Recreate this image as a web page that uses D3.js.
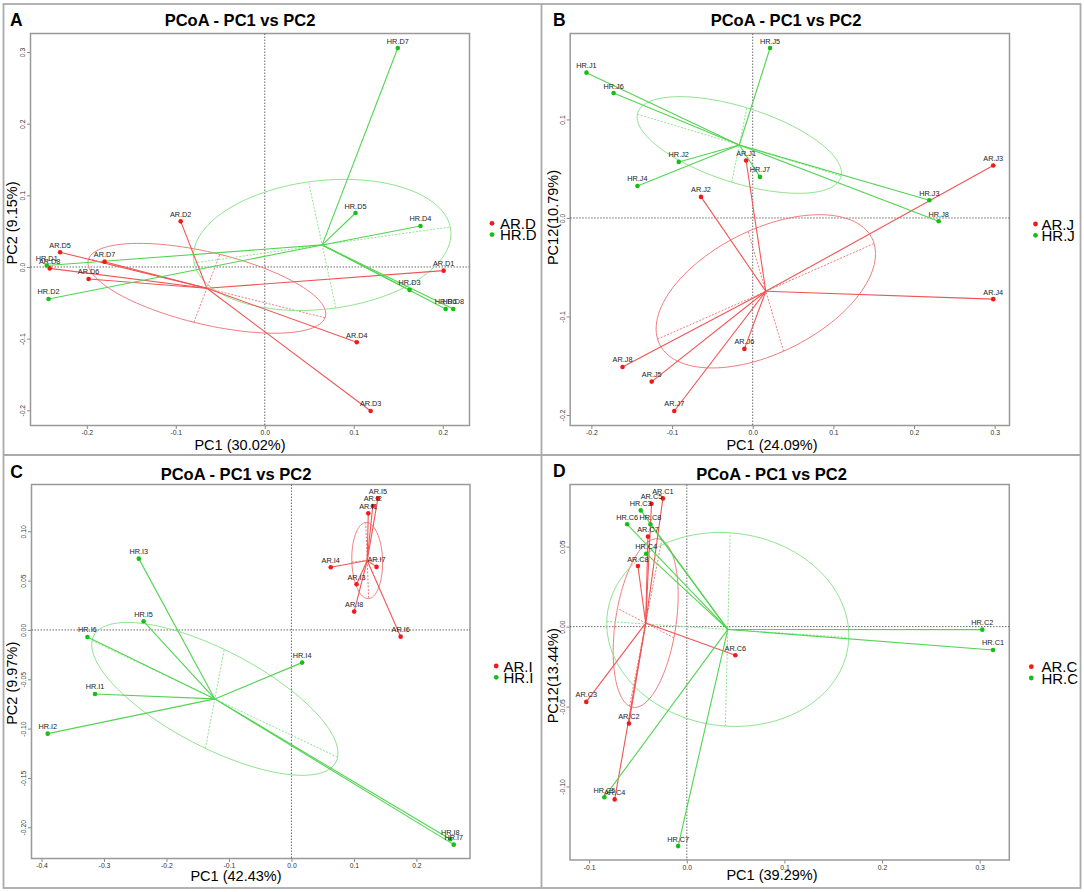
<!DOCTYPE html>
<html>
<head>
<meta charset="utf-8">
<script src="https://cdn.jsdelivr.net/npm/d3@7"></script>
<style>
  body { margin: 0; background: #fff; }
  svg { display: block; font-family: "Liberation Sans", Arial, Helvetica, sans-serif; }
</style>
</head>
<body>
<svg id="fig" width="1084" height="892"></svg>
<script>
// ---- data ----
var namesD = ["AR.D1","AR.D2","AR.D3","AR.D4","AR.D5","AR.D6","AR.D7","AR.D8",
              "HR.D1","HR.D2","HR.D3","HR.D4","HR.D5","HR.D6","HR.D7","HR.D8"];
var pc1D = [0.201,-0.0945,0.119,0.1034,-0.230,-0.198,-0.180,-0.2417,
            -0.245,-0.243,0.1627,0.175,0.102,0.2033,0.1495,0.2118];
var pc2D = [-0.0051,0.0637,-0.201,-0.105,0.0205,-0.0167,0.0074,-0.002,
            0.002,-0.0447,-0.032,0.0572,0.0753,-0.0586,0.3056,-0.0586];

var namesJ = ["AR.J1","AR.J2","AR.J3","AR.J4","AR.J5","AR.J6","AR.J7","AR.J8",
              "HR.J1","HR.J2","HR.J3","HR.J4","HR.J5","HR.J6","HR.J7","HR.J8"];
var pc1J = [-0.0082,-0.0641,0.2982,0.2982,-0.1252,-0.0103,-0.0972,-0.1614,
            -0.2061,-0.0917,0.219,-0.1429,0.0215,-0.1725,0.009,0.2306];
var pc2J = [0.0583,0.0214,0.0532,-0.0824,-0.1661,-0.1329,-0.1959,-0.1512,
            0.1475,0.0569,0.018,0.0325,0.1725,0.1268,0.0417,-0.0034];

var namesI = ["AR.I1","AR.I2","AR.I3","AR.I4","AR.I5","AR.I6","AR.I7","AR.I8",
              "HR.I1","HR.I2","HR.I3","HR.I4","HR.I5","HR.I6","HR.I7","HR.I8"];
var pc1I = [0.123,0.1302,0.1042,0.0629,0.1384,0.1748,0.1362,0.1004,
            -0.3144,-0.390,-0.2443,0.0171,-0.2366,-0.3265,0.2598,0.2543];
var pc2I = [0.1182,0.1257,0.0463,0.0635,0.1334,-0.0068,0.0639,0.0186,
            -0.0649,-0.1051,0.0723,-0.0331,0.0088,-0.0071,-0.2176,-0.2122];

var namesC = ["AR.C1","AR.C2","AR.C3","AR.C4","AR.C5","AR.C6","AR.C7","AR.C8",
              "HR.C1","HR.C2","HR.C3","HR.C4","HR.C5","HR.C6","HR.C7","HR.C8"];
var pc1C = [-0.0245,-0.0593,-0.103,-0.0739,-0.0362,0.0497,-0.0398,-0.0501,
            0.3137,0.3027,-0.0472,-0.0416,-0.0845,-0.0611,-0.0089,-0.0373];
var pc2C = [0.0802,-0.0606,-0.0471,-0.1081,0.0769,-0.0179,0.0563,0.0379,
            -0.0146,-0.0019,0.0727,0.0456,-0.1067,0.064,-0.1373,0.064];

var xTicksD = [-0.2,-0.1,0,0.1,0.2];
var yTicksD = [-0.2,-0.1,0,0.1,0.2,0.3];
var xTicksJ = [-0.2,-0.1,0,0.1,0.2,0.3];
var yTicksJ = [-0.2,-0.1,0,0.1];
var xTicksI = [-0.4,-0.3,-0.2,-0.1,0,0.1,0.2];
var yTicksI = [-0.20,-0.15,-0.10,-0.05,0,0.05,0.10];
var xTicksC = [-0.1,0,0.1,0.2,0.3];
var yTicksC = [-0.10,-0.05,0,0.05];

var groupsD = ["AR.D","HR.D"];
var groupsJ = ["AR.J","HR.J"];
var groupsI = ["AR.I","HR.I"];
var groupsC = ["AR.C","HR.C"];

var title = "PCoA - PC1 vs PC2";
var ELL = 0.8; // ellipse size factor (times group std dev)

var colors = {
  AR: { pt: "#f01a1a", line: "#f25454", ell: "#f27c7c" },
  HR: { pt: "#14c014", line: "#52d452", ell: "#8ee38e" }
};

var panels = [
  { letter: "A", names: namesD, pc1: pc1D, pc2: pc2D, xt: xTicksD, yt: yTicksD, yf: ".1f",
    groups: groupsD, xlab: "PC1 (30.02%)", ylab: "PC2 (9.15%)",
    box: [30.5, 469.5, 33.5, 425.5], titleAt: [240, 26], letterAt: [10, 26],
    xlabAt: [240, 449.5], ylabAt: [17.3, 223], leg: [492, 223.3, 500] },
  { letter: "B", names: namesJ, pc1: pc1J, pc2: pc2J, xt: xTicksJ, yt: yTicksJ, yf: ".1f",
    groups: groupsJ, xlab: "PC1 (24.09%)", ylab: "PC12(10.79%)",
    box: [570.2, 1009.5, 33.5, 425.5], titleAt: [786, 26], letterAt: [553, 26],
    xlabAt: [772, 449.5], ylabAt: [558, 217.5], leg: [1035.5, 224, 1041.5] },
  { letter: "C", names: namesI, pc1: pc1I, pc2: pc2I, xt: xTicksI, yt: yTicksI, yf: ".2f",
    groups: groupsI, xlab: "PC1 (42.43%)", ylab: "PC2 (9.97%)",
    box: [31.5, 470, 484.5, 858.5], titleAt: [236, 480], letterAt: [10.3, 478],
    xlabAt: [236, 880.5], ylabAt: [17.3, 683.3], leg: [496.2, 666, 503.5] },
  { letter: "D", names: namesC, pc1: pc1C, pc2: pc2C, xt: xTicksC, yt: yTicksC, yf: ".2f",
    groups: groupsC, xlab: "PC1 (39.29%)", ylab: "PC12(13.44%)",
    box: [570, 1009.3, 484.5, 860], titleAt: [771.5, 480], letterAt: [553, 477],
    xlabAt: [772, 880], ylabAt: [558, 675.8], leg: [1031.3, 666.7, 1041.4] }
];

var svg = d3.select("#fig");

// panel frames
svg.append("rect").attr("x", 3.5).attr("y", 4).attr("width", 1077).attr("height", 884)
  .attr("fill", "none").attr("stroke", "#aaa").attr("stroke-width", 1.8);
svg.append("line").attr("x1", 541.5).attr("x2", 541.5).attr("y1", 4).attr("y2", 888)
  .attr("stroke", "#aaa").attr("stroke-width", 1.8);
svg.append("line").attr("x1", 3.5).attr("x2", 1080.5).attr("y1", 455).attr("y2", 455)
  .attr("stroke", "#aaa").attr("stroke-width", 1.8);

function fmt(spec) {
  var f = d3.format(spec);
  return (v) => f(v).replace("\u2212", "-");
}

// R style limits: data range extended by 4% on each side
function padExtent(vals) {
  var e = d3.extent(vals), d = (e[1] - e[0]) * 0.04;
  return [e[0] - d, e[1] + d];
}

function groupStats(xs, ys) {
  var mx = d3.mean(xs), my = d3.mean(ys);
  var sxx = d3.mean(xs, (v) => (v - mx) * (v - mx));
  var syy = d3.mean(ys, (v) => (v - my) * (v - my));
  var sxy = d3.mean(xs.map((v, i) => (v - mx) * (ys[i] - my)));
  var t = 0.5 * Math.atan2(2 * sxy, sxx - syy);
  var m = (sxx + syy) / 2, r = Math.sqrt(Math.pow((sxx - syy) / 2, 2) + sxy * sxy);
  return { mx: mx, my: my, t: t,
           a: ELL * Math.sqrt(m + r), b: ELL * Math.sqrt(Math.max(m - r, 0)) };
}

panels.forEach((p, pi) => {
  var x = d3.scaleLinear().domain(padExtent(p.pc1)).range([p.box[0], p.box[1]]);
  var y = d3.scaleLinear().domain(padExtent(p.pc2)).range([p.box[3], p.box[2]]);
  var g = svg.append("g");

  var clipId = "clip" + pi;
  g.append("clipPath").attr("id", clipId).append("rect")
    .attr("x", p.box[0]).attr("y", p.box[2])
    .attr("width", p.box[1] - p.box[0]).attr("height", p.box[3] - p.box[2]);

  // title and panel letter
  g.append("text").attr("x", p.titleAt[0]).attr("y", p.titleAt[1])
    .attr("text-anchor", "middle").attr("font-weight", "bold").attr("font-size", 16.5)
    .text(title);
  g.append("text").attr("x", p.letterAt[0]).attr("y", p.letterAt[1])
    .attr("font-weight", "bold").attr("font-size", 17.5).text(p.letter);

  // axes
  var xAxis = d3.axisBottom(x).tickValues(p.xt).tickFormat(fmt(".1f")).tickSize(3.5).tickPadding(1.5);
  var yAxis = d3.axisLeft(y).tickValues(p.yt).tickFormat(fmt(p.yf)).tickSize(3.5).tickPadding(1.5);
  var gx = g.append("g").attr("transform", "translate(0," + p.box[3] + ")").call(xAxis);
  var gy = g.append("g").attr("transform", "translate(" + p.box[0] + ",0)").call(yAxis);
  [gx, gy].forEach((ax) => {
    ax.select(".domain").remove();
    ax.selectAll(".tick line").attr("stroke", "#888");
    ax.selectAll(".tick text").attr("fill", "#333").attr("font-size", 6.8)
      .attr("font-family", "Liberation Sans, Arial, sans-serif");
  });
  gy.selectAll(".tick text")
    .attr("x", null).attr("dy", null).attr("text-anchor", "middle")
    .attr("transform", "translate(-5.5,0) rotate(-90)");

  // plot frame
  g.append("rect").attr("x", p.box[0]).attr("y", p.box[2])
    .attr("width", p.box[1] - p.box[0]).attr("height", p.box[3] - p.box[2])
    .attr("fill", "none").attr("stroke", "#999").attr("stroke-width", 1.5);

  // axis titles
  g.append("text").attr("x", p.xlabAt[0]).attr("y", p.xlabAt[1])
    .attr("text-anchor", "middle").attr("font-size", 14.5).text(p.xlab);
  g.append("text").attr("transform", "translate(" + p.ylabAt[0] + "," + p.ylabAt[1] + ") rotate(-90)")
    .attr("text-anchor", "middle").attr("font-size", 14.5).text(p.ylab);

  var plot = g.append("g").attr("clip-path", "url(#" + clipId + ")");

  // zero lines
  plot.append("line").attr("x1", p.box[0]).attr("x2", p.box[1]).attr("y1", y(0)).attr("y2", y(0))
    .attr("stroke", "#444").attr("stroke-width", 0.8).attr("stroke-dasharray", "1.5,1.5");
  plot.append("line").attr("y1", p.box[2]).attr("y2", p.box[3]).attr("x1", x(0)).attr("x2", x(0))
    .attr("stroke", "#444").attr("stroke-width", 0.8).attr("stroke-dasharray", "1.5,1.5");

  var pts = p.names.map((n, i) => ({ name: n, grp: n.slice(0, 2), px: p.pc1[i], py: p.pc2[i] }));
  var line = d3.line().x((d) => x(d[0])).y((d) => y(d[1]));

  var stats = {};
  ["AR", "HR"].forEach((grp) => {
    var sub = pts.filter((d) => d.grp === grp);
    var s = groupStats(sub.map((d) => d.px), sub.map((d) => d.py));
    stats[grp] = s;
    var c = colors[grp];
    var ell = d3.range(0, 361, 3).map((deg) => {
      var f = deg * Math.PI / 180;
      return [s.mx + s.a * Math.cos(f) * Math.cos(s.t) - s.b * Math.sin(f) * Math.sin(s.t),
              s.my + s.a * Math.cos(f) * Math.sin(s.t) + s.b * Math.sin(f) * Math.cos(s.t)];
    });
    plot.append("path").attr("d", line(ell)).attr("fill", "none")
      .attr("stroke", c.ell).attr("stroke-width", 1);
    var axes = [
      [[s.mx - s.a * Math.cos(s.t), s.my - s.a * Math.sin(s.t)], [s.mx + s.a * Math.cos(s.t), s.my + s.a * Math.sin(s.t)]],
      [[s.mx + s.b * Math.sin(s.t), s.my - s.b * Math.cos(s.t)], [s.mx - s.b * Math.sin(s.t), s.my + s.b * Math.cos(s.t)]]
    ];
    axes.forEach((a) => {
      plot.append("path").attr("d", line(a)).attr("fill", "none")
        .attr("stroke", c.ell).attr("stroke-width", 1).attr("stroke-dasharray", "2,1.5");
    });
  });

  // spider lines from each group centroid
  plot.selectAll("line.star").data(pts).enter().append("line")
    .attr("class", "star")
    .attr("x1", (d) => x(stats[d.grp].mx)).attr("y1", (d) => y(stats[d.grp].my))
    .attr("x2", (d) => x(d.px)).attr("y2", (d) => y(d.py))
    .attr("stroke", (d) => colors[d.grp].line).attr("stroke-width", 1.1);

  plot.selectAll("circle").data(pts).enter().append("circle")
    .attr("cx", (d) => x(d.px)).attr("cy", (d) => y(d.py)).attr("r", 2.3)
    .attr("fill", (d) => colors[d.grp].pt);

  plot.selectAll("text.lab").data(pts).enter().append("text")
    .attr("class", "lab")
    .attr("x", (d) => x(d.px)).attr("y", (d) => y(d.py) - 4.5)
    .attr("text-anchor", "middle").attr("font-size", 7.3).attr("fill", "#222")
    .text((d) => d.name);

  // legend
  p.groups.forEach((gname, k) => {
    var c = colors[gname.slice(0, 2)];
    g.append("circle").attr("cx", p.leg[0]).attr("cy", p.leg[1] + k * 11.3).attr("r", 2.4)
      .attr("fill", c.pt);
    g.append("text").attr("x", p.leg[2]).attr("y", p.leg[1] + k * 11.3)
      .attr("dominant-baseline", "central").attr("font-size", 15).text(gname);
  });
});
</script>
</body>
</html>
